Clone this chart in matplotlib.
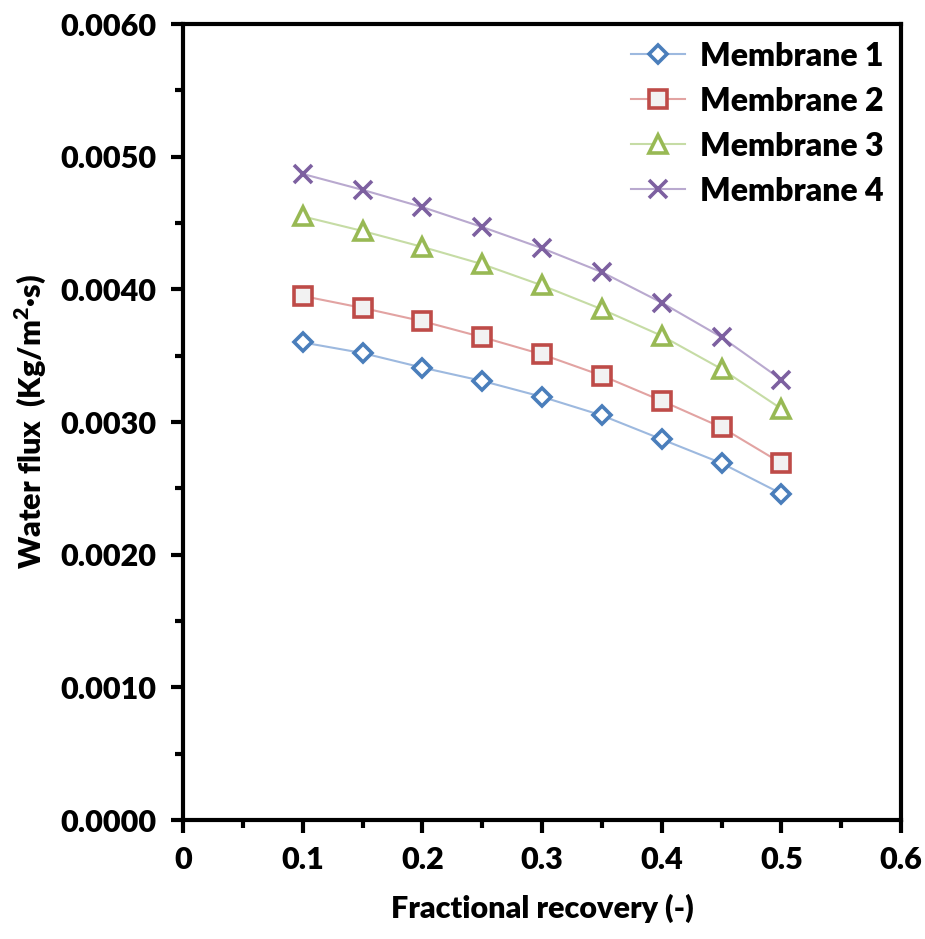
import matplotlib
matplotlib.use("Agg")
import matplotlib.pyplot as plt
from matplotlib.ticker import MultipleLocator, FormatStrFormatter

plt.rcParams['font.family'] = ['Lato', 'DejaVu Sans']
plt.rcParams['font.weight'] = 'heavy'
plt.rcParams['mathtext.fontset'] = 'custom'
plt.rcParams['mathtext.bf'] = 'Lato:heavy'

recovery = [0.10, 0.15, 0.20, 0.25, 0.30, 0.35, 0.40, 0.45, 0.50]
membrane_1 = [0.00360, 0.00352, 0.00341, 0.00331, 0.00319, 0.00305, 0.00287, 0.00269, 0.00246]
membrane_2 = [0.00395, 0.00386, 0.00376, 0.00364, 0.00351, 0.00335, 0.00316, 0.00296, 0.00269]
membrane_3 = [0.00455, 0.00444, 0.00432, 0.00419, 0.00403, 0.00385, 0.00365, 0.00340, 0.00310]
membrane_4 = [0.00487, 0.00475, 0.00462, 0.00447, 0.00431, 0.00413, 0.00390, 0.00364, 0.00332]
labels = ["Membrane 1", "Membrane 2", "Membrane 3", "Membrane 4"]

series = [membrane_1, membrane_2, membrane_3, membrane_4]
edge_colors = ["#4A7EBB", "#BE4B48", "#98B954", "#7D60A0"]
line_colors = ["#9DB9DF", "#E2A3A2", "#C6DCA5", "#B9A9CF"]
markers = ["D", "s", "^", "x"]
sizes = [9.5, 13.5, 13.5, 13.5]
faces = ["white", "#F2F2F2", "white", "none"]

fig = plt.figure(figsize=(9.25, 9.39), dpi=100)
ax = fig.add_axes([0.198, 0.1267, 0.776, 0.8477])

for y, lab, ec, lc, m, s, fc in zip(series, labels, edge_colors, line_colors, markers, sizes, faces):
    ax.plot(recovery, y, color=lc, lw=1.5, zorder=2)
    ax.plot(recovery, y, linestyle='none', marker=m, markersize=s,
            markeredgecolor=ec, markerfacecolor=fc, markeredgewidth=2.6, zorder=3)
    # legend proxy combining line and marker
    ax.plot([], [], color=lc, lw=1.5, marker=m, markersize=s,
            markeredgecolor=ec, markerfacecolor=fc, markeredgewidth=2.6, label=lab)

ax.set_xlim(0, 0.6)
ax.set_ylim(0, 0.006)
ax.xaxis.set_major_locator(MultipleLocator(0.1))
ax.xaxis.set_minor_locator(MultipleLocator(0.05))
ax.yaxis.set_major_locator(MultipleLocator(0.001))
ax.yaxis.set_minor_locator(MultipleLocator(0.0005))
ax.yaxis.set_major_formatter(FormatStrFormatter('%.4f'))
ax.set_xticks([0, 0.1, 0.2, 0.3, 0.4, 0.5, 0.6])
ax.set_xticklabels(["0", "0.1", "0.2", "0.3", "0.4", "0.5", "0.6"])

for sp in ax.spines.values():
    sp.set_linewidth(3)
    sp.set_color('black')

ax.tick_params(which='major', direction='out', length=9, width=3, labelsize=22, pad=10)
ax.tick_params(which='minor', direction='out', length=6, width=3)
for t in ax.get_xticklabels() + ax.get_yticklabels():
    t.set_fontweight('heavy')

ax.set_xlabel("Fractional recovery (-)", fontsize=22, fontweight='heavy', labelpad=14)
ax.set_ylabel("Water flux  (Kg/m$^{\\mathbf{2}}$·s)", fontsize=22, fontweight='heavy', labelpad=9)

leg = ax.legend(loc='upper right', frameon=False, handlelength=1.7,
                handletextpad=0.45, labelspacing=0.5, borderaxespad=0.15,
                prop={'weight': 'heavy', 'size': 23})

fig.savefig("out.png", dpi=100)
